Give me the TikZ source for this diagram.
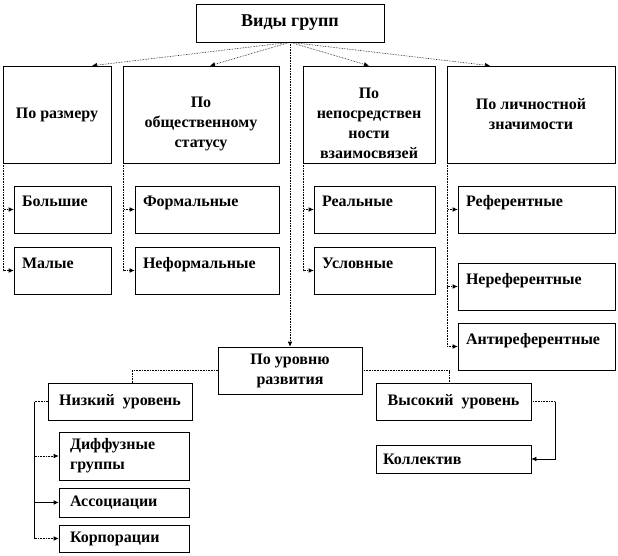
\documentclass[tikz,border=0pt]{standalone}
\usepackage{fontspec}
\setmainfont{Liberation Serif}
\usetikzlibrary{arrows.meta,calc,shadows}

\begin{document}
\begin{tikzpicture}[x=1pt,y=-1pt,line join=miter,
  box/.style={draw=black,line width=.6pt,fill=white,inner sep=0pt,
    font=\fontsize{16}{20}\selectfont\bfseries,
    drop shadow={shadow xshift=.9pt,shadow yshift=-.9pt,opacity=1,fill=black}},
  crit/.style={box,align=center,minimum width=#1,minimum height=97},
  leaf/.style={box,align=left,inner xsep=8pt,text width=#1,
    minimum height=47,text height=21pt,text depth=26pt},
  lvl/.style={box,align=center,minimum width=#1,minimum height=37},
  dotl/.style={draw=black,line width=.6pt,densely dotted},
  solidl/.style={draw=black,line width=.6pt},
  arr/.style={-{Latex[length=5pt,width=4.5pt]}}]
\useasboundingbox (0,0) rectangle (618,556);

% Root and the four criteria.
\node[box,minimum width=188,minimum height=38,font=\fontsize{18}{22}\selectfont\bfseries] (vidy) at (290,23) {Виды групп};
\node[crit=108] (razmer) at (57,114.5) {По размеру};
\node[crit=156] (status) at (201,114.5) {\rule{0pt}{30pt}По\\общественному\\статусу};
\node[crit=132] (svyaz) at (369,114.5) {\rule{0pt}{28pt}По\\непосредствен\\ности\\взаимосвязей};
\node[crit=168] (znach) at (531,114.5) {По личностной\\значимости};

\draw[dotl,arr] (vidy.south) -- ($(razmer.north)+(35,0)$);
\draw[dotl,arr] (vidy.south) -- ($(status.north)+(9,0)$);
\draw[dotl,arr] (vidy.south) -- (svyaz.north);
\draw[dotl,arr] (vidy.south) -- ($(znach.north)+(-41,0)$);

% Kinds under each criterion.
\node[leaf=81] (bolshie) at (62.5,209.5) {Большие};
\node[leaf=81] (malye) at (62.5,270.5) {Малые};
\node[leaf=128] (formal) at (207,209.5) {Формальные};
\node[leaf=128] (neformal) at (207,270.5) {Неформальные};
\node[leaf=105] (realn) at (374.5,209.5) {Реальные};
\node[leaf=105] (uslovn) at (374.5,270.5) {Условные};
\node[leaf=141] (referent) at (536.5,209.5) {Референтные};
\node[leaf=141] (nereferent) at (536.5,286.5) {Нереферентные};
\node[leaf=141] (antireferent) at (536.5,346.5) {Антиреферентные};

\foreach \a/\b in {razmer/bolshie,razmer/malye,status/formal,status/neformal,
    svyaz/realn,svyaz/uslovn,znach/referent,znach/nereferent,znach/antireferent}
  \draw[dotl,arr] ($(\a.south west)+(1,0)$) |- (\b.west);

% Level of development.
\node[box,align=center,minimum width=144,minimum height=47] (uroven) at (290,370.5) {По уровню\\развития};
\draw[dotl,arr] (vidy.south) -- (uroven.north);

\node[lvl=144] (nizkiy) at (120,401.5) {Низкий\ \ уровень};
\node[lvl=155] (vysokiy) at (453.5,401.5) {Высокий\ \ уровень};
\draw[dotl] (uroven.west) -| ($(nizkiy.north)+(12,0)$);
\draw[dotl] (uroven.east) -| ($(vysokiy.north)+(-4.5,0)$);

\node[box,align=left,inner xsep=7pt,text width=141,minimum height=28] (kollektiv) at (453.5,459) {Коллектив};
\coordinate (kbend) at ($(vysokiy.east)+(24,0)$);
\draw[dotl] (vysokiy.east) -- (kbend);
\draw[solidl,arr] (kbend) |- (kollektiv.east);

\node[box,align=left,inner xsep=11pt,text width=108,minimum height=48] (diffuz) at (124,456) {Диффузные\\группы};
\node[box,align=left,inner xsep=11pt,text width=108,minimum height=29] (assoc) at (124,502.5) {Ассоциации};
\node[box,align=left,inner xsep=11pt,text width=108,minimum height=27] (korpor) at (124,538.5) {Корпорации};

\coordinate (trunk) at ($(nizkiy.west)+(-13,0)$);
\draw[dotl] (nizkiy.west) -- (trunk);
\draw[solidl] (trunk) -- (trunk |- korpor.west);
\foreach \b/\s in {diffuz/dotl,assoc/solidl,korpor/dotl}
  \draw[\s,arr] (trunk |- \b.west) -- (\b.west);
\end{tikzpicture}
\end{document}
